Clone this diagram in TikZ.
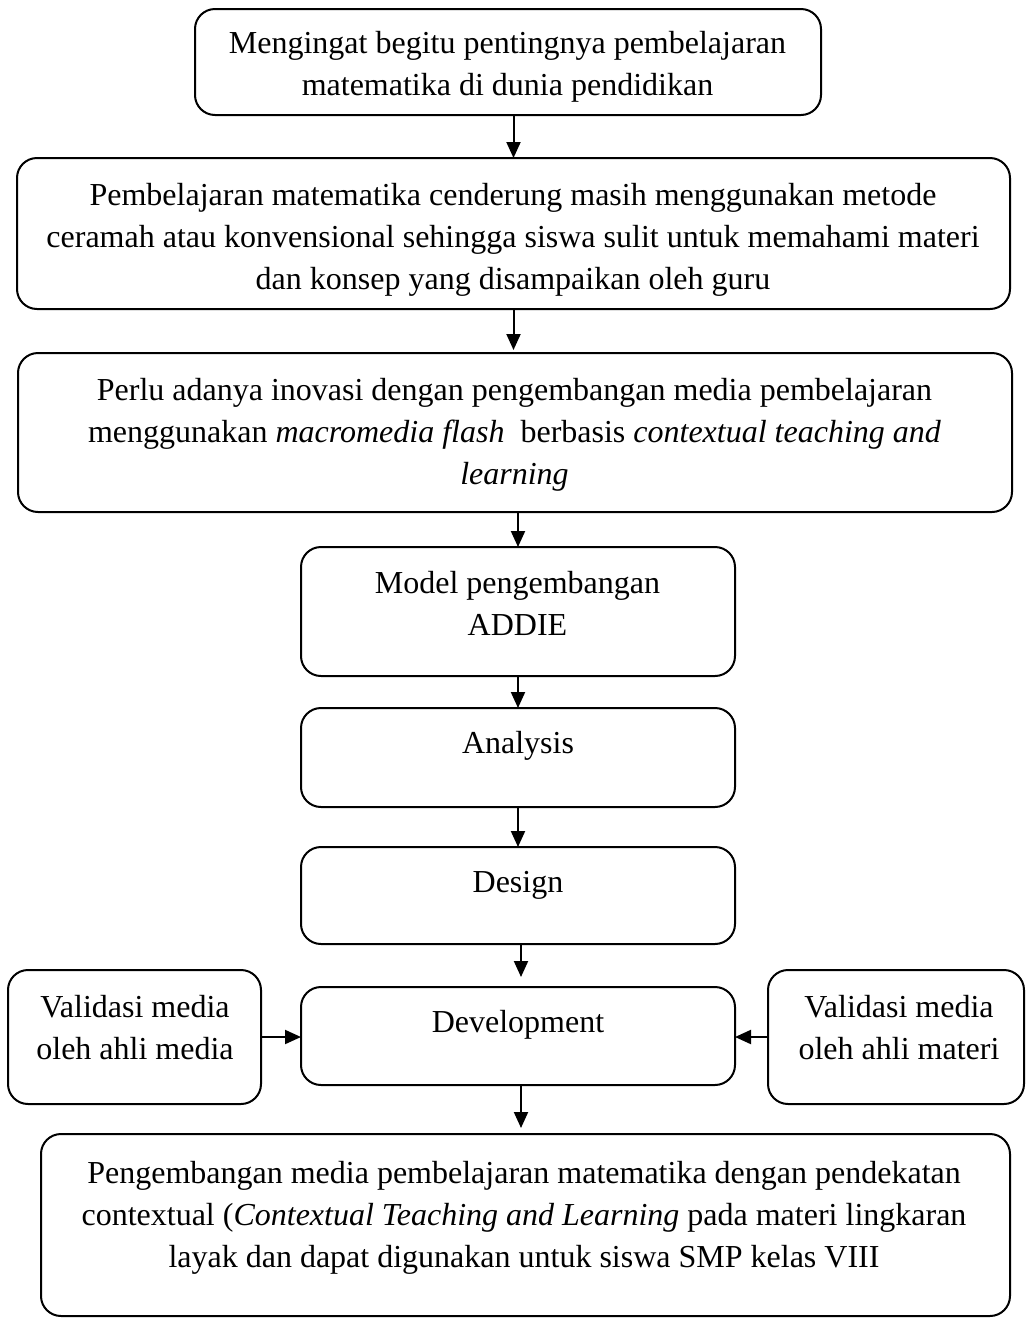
\documentclass[tikz,border=0pt]{standalone}
\usepackage{fontspec}
\setmainfont{Liberation Serif}
\usetikzlibrary{arrows.meta}

\tikzset{
  box/.style={draw, line width=1pt, rounded corners=10pt, inner sep=0pt, outer sep=0pt},
  txt/.style={anchor=base, align=flush center, inner sep=0pt, text width=#1,
    font=\fontsize{16pt}{21pt}\selectfont},
  arr/.style={line width=1pt, -{Triangle[length=8pt,width=7pt]}}
}

\begin{document}
\begin{tikzpicture}[x=0.5pt, y=-0.5pt]
  \useasboundingbox (0,0) rectangle (1025,1318);

  \node[box, minimum width=313pt,   minimum height=53pt]   (latar)   at (508,62)     {};
  \node[box, minimum width=496.5pt, minimum height=75.5pt] (masalah) at (513.5,233.5) {};
  \node[box, minimum width=497pt,   minimum height=79.5pt] (solusi)  at (515,432.5)  {};
  \node[box, minimum width=217pt,   minimum height=64.5pt] (model)   at (518,611.5)  {};
  \node[box, minimum width=217pt,   minimum height=49.5pt] (analysis) at (518,757.5) {};
  \node[box, minimum width=217pt,   minimum height=48.5pt] (design)  at (518,895.5)  {};
  \node[box, minimum width=217pt,   minimum height=49pt]   (develop) at (518,1036)   {};
  \node[box, minimum width=126.5pt, minimum height=67pt]   (valmedia)  at (134.5,1037) {};
  \node[box, minimum width=128pt,   minimum height=67pt]   (valmateri) at (896,1037)   {};
  \node[box, minimum width=484.5pt, minimum height=91pt]   (hasil)   at (525.5,1225) {};

  \node[txt=300pt] (latar-t) at (507.5,53)
    {Mengingat begitu pentingnya pembelajaran\\matematika di dunia pendidikan};
  \node[txt=480pt] (masalah-t) at (513,205)
    {Pembelajaran matematika cenderung masih menggunakan metode\\
     ceramah atau konvensional sehingga siswa sulit untuk memahami materi\\
     dan konsep yang disampaikan oleh guru};
  \node[txt=480pt] (solusi-t) at (514.5,400)
    {Perlu adanya inovasi dengan pengembangan media pembelajaran\\
     menggunakan \textit{macromedia flash}~ berbasis \textit{contextual teaching and}\\
     \textit{learning}};
  \node[txt=200pt] (model-t) at (517.5,593) {Model pengembangan\\ADDIE};
  \node[txt=200pt] (analysis-t) at (518,753) {Analysis};
  \node[txt=200pt] (design-t) at (518,892) {Design};
  \node[txt=200pt] (develop-t) at (518,1032) {Development};
  \node[txt=120pt] (valmedia-t) at (135,1017) {Validasi media\\oleh ahli media};
  \node[txt=120pt] (valmateri-t) at (899,1017) {Validasi media\\oleh ahli materi};
  \node[txt=470pt] (hasil-t) at (524,1183)
    {Pengembangan media pembelajaran matematika dengan pendekatan\\
     contextual (\textit{Contextual Teaching and Learning} pada materi lingkaran\\
     layak dan dapat digunakan untuk siswa SMP kelas VIII};

  \draw[arr] (latar.south -| masalah.north) -- (masalah.north);
  \draw[arr, shorten >=1.5pt] (masalah.south) -- (masalah.south |- solusi.north);
  \draw[arr] (solusi.south -| model.north) -- (model.north);
  \draw[arr] (model.south) -- (analysis.north);
  \draw[arr] (analysis.south) -- (design.north);
  \draw[arr, shorten >=5pt] ([xshift=1.5pt]design.south) -- ([xshift=1.5pt]develop.north);
  \draw[arr] (valmedia.east) -- (valmedia.east -| develop.west);
  \draw[arr] (valmateri.west) -- (valmateri.west -| develop.east);
  \draw[arr, shorten >=3pt] ([xshift=1.5pt]develop.south) -- ([xshift=1.5pt]develop.south |- hasil.north);
\end{tikzpicture}
\end{document}
